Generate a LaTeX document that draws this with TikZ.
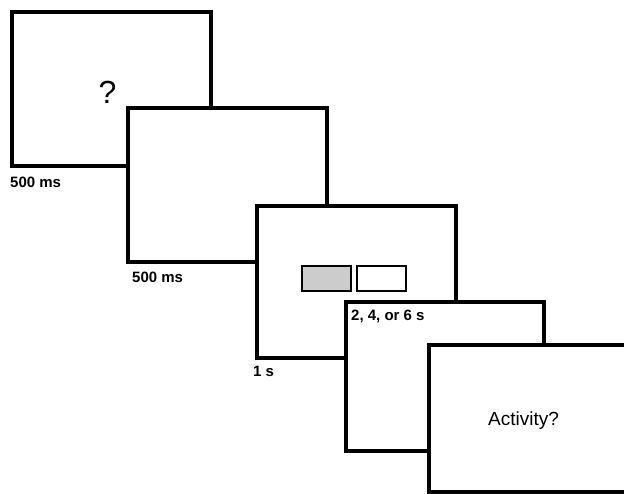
\documentclass[tikz,border=0pt]{standalone}
\usepackage{fontspec}
\setmainfont{Liberation Sans}
\tikzset{
  screen/.style={draw=black, line width=4pt, fill=white, line join=miter},
  choice/.style={draw=black, line width=2pt},
  timing/.style={anchor=base west, inner sep=0pt, font=\bfseries\fontsize{15}{18}\selectfont},
  prompt/.style={anchor=base, inner sep=0pt}
}
\begin{document}
\begin{tikzpicture}[x=1pt,y=-1pt]
\useasboundingbox (0,0) rectangle (624,493);
\clip (0,0) rectangle (624,493);
% cue screen
\draw[screen] (12,12) rectangle (210.5,166);
\node[prompt, font=\fontsize{32}{36}\selectfont] (q) at (107.5,103) {?};
\node[timing] (t1) at (10,187) {500 ms};
% blank screen
\draw[screen] (128,107.5) rectangle (327,261.5);
\node[timing] (t2) at (132,282) {500 ms};
% choice screen
\draw[screen] (256.5,205.5) rectangle (455.5,358);
\draw[choice, fill={rgb,255:red,204;green,204;blue,204}] (302,266) rectangle (351,291);
\draw[choice, fill=white] (357,266) rectangle (406,291);
\node[timing] (t3) at (253,376) {1 s};
% delay screen
\draw[screen] (345.5,301.5) rectangle (543.5,451);
\node[timing] (t4) at (351,320) {2, 4, or 6 s};
% response screen
\draw[screen] (429,345) rectangle (628,492);
\node[prompt, font=\fontsize{19}{22}\selectfont] (act) at (523.5,425) {Activity?};
\end{tikzpicture}
\end{document}
